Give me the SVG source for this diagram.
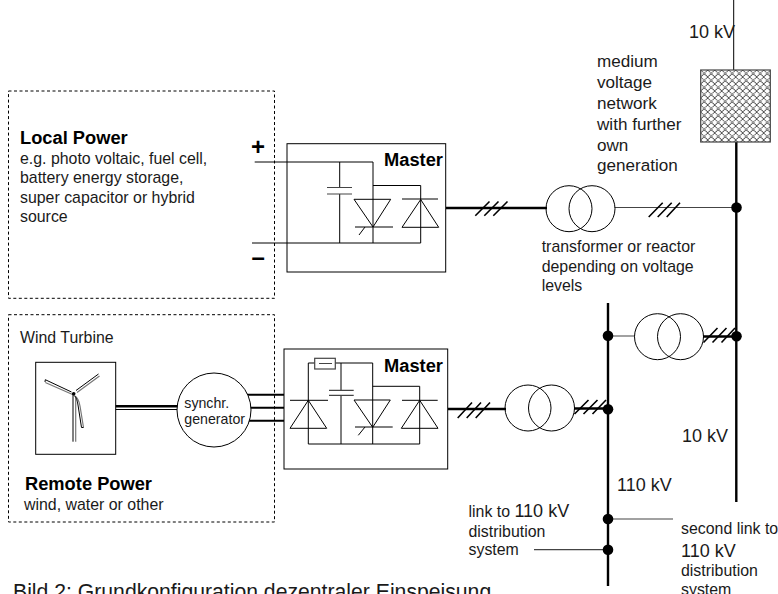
<svg xmlns="http://www.w3.org/2000/svg" width="778" height="594" viewBox="0 0 778 594">
<style>
text{font-family:"Liberation Sans",Arial,sans-serif;fill:#1a1a1a}
.t{font-size:15.9px}
.v{font-size:17.1px}
.m{font-size:18px}
.b{font-size:18.3px;font-weight:bold;fill:#000}
.l{fill:none;stroke:#000;stroke-width:1}
.g{fill:none;stroke:#444;stroke-width:1.2}
.h{fill:none;stroke:#000;stroke-width:2.4}
.s{fill:none;stroke:#000;stroke-width:1.6}
.d{fill:none;stroke:#000;stroke-width:1;stroke-dasharray:3 2.5}
.n{fill:#000}
.p{font-size:24px;font-weight:bold;fill:#000}
</style>
<defs>
<pattern id="xh" width="7" height="7" patternUnits="userSpaceOnUse" x="700.7" y="70">
<rect width="7" height="7" fill="#fff"/>
<path d="M0 0L7 7M7 0L0 7" stroke="#111" stroke-width="1.1" stroke-dasharray="1 .8"/>
</pattern>
</defs>
<rect width="778" height="594" fill="#fff"/>
<g id="connectors">
<path class="l" d="M733.7 0V70"/>
<path class="h" d="M736.3 142V502M608 303V586"/>
<path class="g" d="M614.7 207.5H736M608 336H635M608 519H673M534 549.7H608"/>
<path class="h" d="M446 208H547M448 409H506M574 408.5H608M703 336.5H736"/>
<path class="s" d="M475.3 215.7L489.5 201.5M484.3 215.7L498.5 201.5M493.3 215.7L507.5 201.5"/>
<path class="s" d="M648.7 217L662.7 202.7M657.7 217L671.7 202.7M666.7 217L680 202.7"/>
<path class="s" d="M457.7 418L472 402.5M466.7 418L481 402.5M475.7 418L490 402.5"/>
<path class="s" d="M574.5 414L588.5 400M583.5 414L597.5 400M592.5 414L606 400"/>
<path class="s" d="M703.5 342.5L717.5 328M712.5 342.5L726.5 328M721.5 342.5L735 328"/>
<path class="h" d="M115.7 406.3H178"/>
<path class="l" d="M115.7 409.5H178"/>
<path class="h" d="M246 394.7H284M249 407.7H284M246 420.7H284" style="stroke-width:2"/>
</g>
<g id="local-power">
<rect class="d" x="8.5" y="91" width="266" height="207.3"/>
<text class="b" x="20" y="144">Local Power</text>
<text class="t" x="20" y="164.3">e.g. photo voltaic, fuel cell,</text>
<text class="t" x="20" y="183">battery energy storage,</text>
<text class="t" x="20" y="203">super capacitor or hybrid</text>
<text class="t" x="20" y="221.7">source</text>
<text class="p" x="251" y="155">+</text>
<text class="p" x="251.5" y="265">–</text>
</g>
<g id="master-top">
<rect class="l" x="287" y="143.7" width="158.7" height="128.3"/>
<text class="b" x="384" y="165.7">Master</text>
<path class="l" d="M254.7 162H373V243M252 243H420.7V185.5H373M339.7 162V187.5M339.7 194V243"/>
<path class="g" d="M327 187.5H352M327 194H352"/>
<path class="l" d="M354 199.3H390.7L373 227ZM355 227H393M359 235L365 227"/>
<path class="l" d="M420.7 199.5L402 227.3H438.7ZM402 199H438"/>
</g>
<g id="transformer-1">
<circle class="l" cx="569" cy="208.7" r="23"/>
<circle class="l" cx="592" cy="208.7" r="23"/>
<text class="t" x="541.7" y="251.7">transformer or reactor</text>
<text class="t" x="541.7" y="271.7">depending on voltage</text>
<text class="t" x="541.7" y="290.7">levels</text>
</g>
<g id="medium-voltage">
<rect x="700.7" y="70" width="69.6" height="72" fill="url(#xh)" stroke="#444" stroke-width="1.2"/>
<text class="m" x="689" y="37.7">10 kV</text>
<text class="v" x="597" y="67.3">medium</text>
<text class="v" x="597" y="87.7">voltage</text>
<text class="v" x="597" y="108.7">network</text>
<text class="v" x="597" y="130">with further</text>
<text class="v" x="597" y="150.7">own</text>
<text class="v" x="597" y="171.3">generation</text>
</g>
<g id="remote-power">
<rect class="d" x="8.5" y="314.7" width="266" height="207.3"/>
<text class="t" x="20" y="342.7">Wind Turbine</text>
<text class="b" x="25" y="490">Remote Power</text>
<text class="t" x="24" y="510">wind, water or other</text>
</g>
<g id="wind-turbine">
<rect class="l" x="35.7" y="362.3" width="80" height="92"/>
<path class="l" d="M73 393V441.7"/>
<path fill="none" stroke="#777" stroke-width="1.2" d="M75.7 396V441.7M73.7 395L45.3 382.5M77 392.5L99.5 376M75 396C78 398 79 400 80 406L83.5 427.5"/>
<path class="l" d="M71.5 392L45.3 379.7L45 382M76 390.5L98.5 374M73.7 395C76 397 77 399 78 405L81.5 427.5L83.5 427.5"/>
<circle class="n" cx="73.7" cy="393.7" r="1.8"/>
</g>
<g id="generator">
<circle cx="214" cy="410" r="37" fill="#fff" stroke="#000"/>
<text x="184.3" y="407.7" style="font-size:14.2px">synchr.</text>
<text x="184.3" y="424" style="font-size:14.2px">generator</text>
</g>
<g id="master-bottom">
<rect class="l" x="284" y="349" width="163.7" height="120"/>
<text class="b" x="384" y="371.7">Master</text>
<path class="l" d="M308.3 444V363H314.7M335.3 363H372.7V444M341 363V390.3M341 395.3V444M308.3 444H419.7V386.3H372.7"/>
<rect class="g" x="314.7" y="358.3" width="20.6" height="10.7"/>
<path class="g" d="M319 363.5H332M329 390.3H353.7M329 395.3H353.7"/>
<path class="l" d="M308.3 400.3L290 428.3H326.7ZM290 400.3H328"/>
<path class="l" d="M354 400H390.3L372.7 427.3ZM355 427H392.7M358.3 435.3L365 427"/>
<path class="l" d="M419.7 400.3L401.3 428.3H438ZM402 400.3H437.7"/>
</g>
<g id="transformer-2">
<circle class="l" cx="528" cy="408" r="23"/>
<circle class="l" cx="551.5" cy="408" r="23"/>
</g>
<g id="transformer-3">
<circle class="l" cx="657.5" cy="336.7" r="23"/>
<circle class="l" cx="680.5" cy="336.7" r="23"/>
</g>
<g id="nodes">
<circle class="n" cx="736.5" cy="207.5" r="5.3"/>
<circle class="n" cx="736.5" cy="336.3" r="5.3"/>
<circle class="n" cx="608" cy="335.7" r="5.3"/>
<circle class="n" cx="608" cy="409.3" r="5.3"/>
<circle class="n" cx="608" cy="519" r="5.3"/>
<circle class="n" cx="608" cy="549.7" r="5.3"/>
</g>
<g id="labels">
<text class="m" x="682" y="441.7">10 kV</text>
<text class="m" x="617" y="491">110 kV</text>
<text class="t" x="468.5" y="516.7"><tspan>link to </tspan><tspan style="font-size:18px">110 kV</tspan></text>
<text class="t" x="468.5" y="536.7">distribution</text>
<text class="t" x="468.5" y="555">system</text>
<text class="t" x="681" y="534.3">second link to</text>
<text class="m" x="681" y="556.7">110 kV</text>
<text class="t" x="681" y="576">distribution</text>
<text class="t" x="681" y="595">system</text>
<text x="13" y="599" style="font-size:21.2px">Bild 2: Grundkonfiguration dezentraler Einspeisung</text>
</g>
</svg>
